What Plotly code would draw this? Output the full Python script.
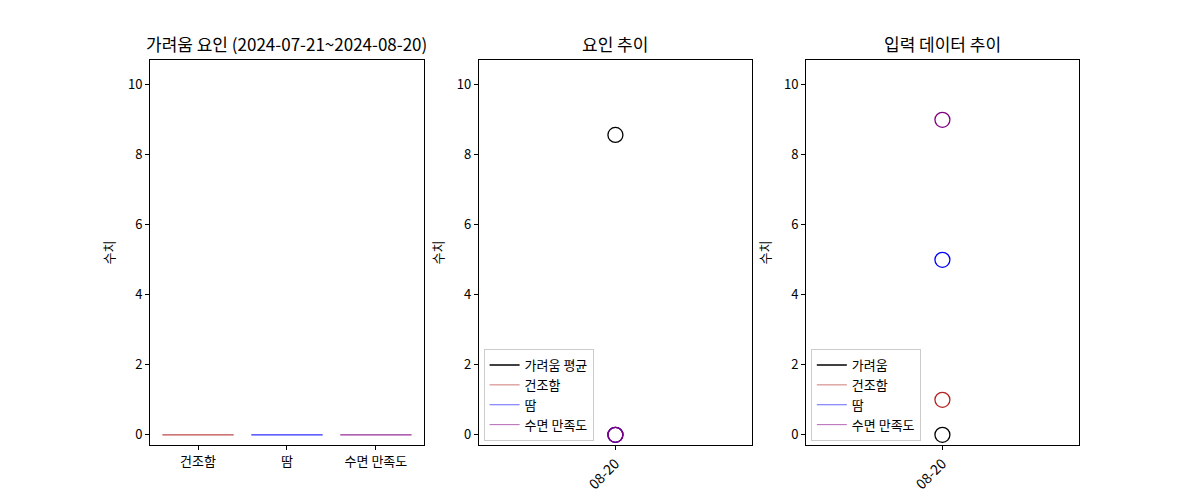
import plotly.graph_objects as go

# data
factors = ['건조함', '땀', '수면 만족도']
factor_vals = [0, 0, 0]
factor_colors = ['firebrick', 'blue', 'purple']

dates = ['08-20']
itch_avg = [8.57]
dry_avg = [0]
sweat_avg = [0]
sleep_avg = [0]

itch_in = [0]
dry_in = [1]
sweat_in = [5]
sleep_in = [9]

FONT = 'Noto Sans CJK KR'

fig = go.Figure()

# left: factor bars
fig.add_trace(go.Bar(x=factors, y=factor_vals, width=0.8,
                     marker=dict(color=factor_colors, opacity=0.7,
                                 line=dict(color=factor_colors, width=1)),
                     showlegend=False, xaxis='x', yaxis='y'))

def add_series(xa, ya, leg, names, series, colors, widths):
    for name, ys, c, w in zip(names, series, colors, widths):
        # legend entry (line)
        fig.add_trace(go.Scatter(x=dates, y=ys, mode='lines', name=name,
                                 line=dict(color=c, width=w),
                                 opacity=1 if w > 1 else 0.6,
                                 xaxis=xa, yaxis=ya, legend=leg))
        fig.add_trace(go.Scatter(x=dates, y=ys, mode='markers', showlegend=False,
                                 marker=dict(symbol='circle-open', size=15, color=c,
                                             line=dict(width=1.3)),
                                 xaxis=xa, yaxis=ya))

add_series('x2', 'y2', 'legend2', ['가려움 평균', '건조함', '땀', '수면 만족도'],
           [itch_avg, dry_avg, sweat_avg, sleep_avg],
           ['black', 'firebrick', 'blue', 'purple'], [1.5, 1, 1, 1])
add_series('x3', 'y3', 'legend3', ['가려움', '건조함', '땀', '수면 만족도'],
           [itch_in, dry_in, sweat_in, sleep_in],
           ['black', 'firebrick', 'blue', 'purple'], [1.5, 1, 1, 1])

axis_style = dict(showline=True, linecolor='black', linewidth=1, mirror=True,
                  ticks='outside', ticklen=4, tickcolor='black', showgrid=False,
                  zeroline=False, tickfont=dict(size=13, color='black'))
yaxis_style = dict(axis_style, range=[-0.29, 10.71], dtick=2,
                   title=dict(text='수치', font=dict(size=13, color='black'), standoff=10))
date_axis = dict(axis_style, type='category', range=[-0.5, 0.5], tickangle=-45,
                 tickfont=dict(size=14, color='black'))

# page body has an 8px margin, so shift everything up/left by 8px
ox = 8 / 1200
oy = 8 / 500
doms = [(0.125 - ox, 0.3533 - ox), (0.399 - ox, 0.6267 - ox), (0.6717 - ox, 0.899 - ox)]
ydom = [0.11 + oy, 0.88 + oy]
titles = ['가려움 요인 (2024-07-21~2024-08-20)', '요인 추이', '입력 데이터 추이']

legend_style = dict(xanchor='left', yanchor='bottom', y=ydom[0] + 0.008,
                    bgcolor='rgba(255,255,255,0.8)', bordercolor='#cccccc', borderwidth=1,
                    font=dict(size=13), tracegroupgap=0, itemwidth=30)

fig.update_layout(
    width=1200, height=500, margin=dict(l=0, r=0, t=0, b=0),
    paper_bgcolor='white', plot_bgcolor='white',
    font=dict(family=FONT, color='black'),
    xaxis=dict(axis_style, domain=doms[0], range=[-0.54, 2.54], anchor='y'),
    yaxis=dict(yaxis_style, domain=ydom, anchor='x'),
    xaxis2=dict(date_axis, domain=doms[1], anchor='y2'),
    yaxis2=dict(yaxis_style, domain=ydom, anchor='x2'),
    xaxis3=dict(date_axis, domain=doms[2], anchor='y3'),
    yaxis3=dict(yaxis_style, domain=ydom, anchor='x3'),
    legend2=dict(legend_style, x=doms[1][0] + 0.004),
    legend3=dict(legend_style, x=doms[2][0] + 0.004),
)

for d, t in zip(doms, titles):
    fig.add_annotation(text=t, x=(d[0] + d[1]) / 2, y=ydom[1], xref='paper', yref='paper',
                       xanchor='center', yanchor='bottom', yshift=2, showarrow=False,
                       font=dict(size=17, color='black'))

fig.write_html('out.html')
